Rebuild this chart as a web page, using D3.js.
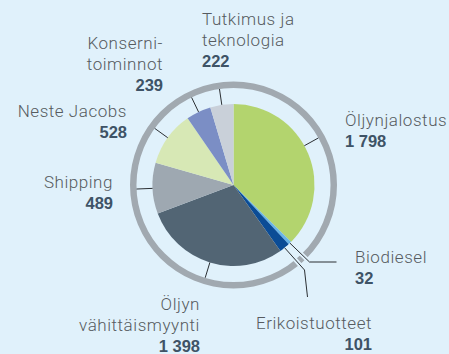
<!DOCTYPE html>
<html>
<head>
<meta charset="utf-8">
<script src="https://cdn.jsdelivr.net/npm/d3@7"></script>
<style>
  html, body { margin: 0; padding: 0; background: #e0f1fb; }
  svg { display: block; }
  .name { font-family: Roboto, "Liberation Sans", sans-serif; font-weight: 300; font-size: 17px; letter-spacing: 0.55px; fill: #565b60; }
  .value { font-family: "Liberation Sans", Arial, sans-serif; font-weight: 700; font-size: 16.5px; fill: #3e5366; }
</style>
</head>
<body>
<svg id="chart" width="449" height="354"></svg>
<script>
// Segment names (label lines), values and colours
const segments = ["Öljynjalostus", "Biodiesel", "Erikoistuotteet", "Öljyn vähittäismyynti",
                  "Shipping", "Neste Jacobs", "Konsernitoiminnot", "Tutkimus ja teknologia"];
const labelLines = [["Öljynjalostus"], ["Biodiesel"], ["Erikoistuotteet"], ["Öljyn", "vähittäismyynti"],
                    ["Shipping"], ["Neste Jacobs"], ["Konserni-", "toiminnot"], ["Tutkimus ja", "teknologia"]];
const values = [1798, 32, 101, 1398, 489, 528, 239, 222];
const valueLabels = ["1 798", "32", "101", "1 398", "489", "528", "239", "222"];
const colors = ["#b3d46e", "#6ab4e6", "#0b4c96", "#526574", "#9ea8b1", "#d7e8b5", "#7b8ec5", "#c9d0d9"];

// Label placement: text anchor point, alignment, and leader geometry
const labelLayout = [
  { x: 345, y: 126, anchor: "start", angle: 61 },
  { x: 355, y: 263, anchor: "start", elbow: [76, 77], end: [103, 77], halo: true },
  { x: 372, y: 329, anchor: "end", elbow: [71, 85], end: [74, 112], halo: true },
  { x: 200, y: 310, anchor: "end" },
  { x: 113, y: 188, anchor: "end" },
  { x: 127, y: 117, anchor: "end" },
  { x: 163, y: 49, anchor: "end" },
  { x: 202, y: 25, anchor: "start" }
];

const W = 449, H = 354;
const cx = 233.5, cy = 185;
const rPie = 81, rRingIn = 97, rRingOut = 103.5;
const lineGap = 21;

const svg = d3.select("#chart");
const g = svg.append("g").attr("transform", `translate(${cx},${cy})`);

const pie = d3.pie().sort(null).value(d => d.value).startAngle(0).endAngle(2 * Math.PI);
const data = segments.map((s, i) => ({ name: s, value: values[i], color: colors[i], i }));
const arcs = pie(data);
const arc = d3.arc().innerRadius(0).outerRadius(rPie);

g.selectAll("path.slice")
  .data(arcs)
  .join("path")
  .attr("class", "slice")
  .attr("d", arc)
  .attr("fill", d => d.data.color);

// Outer ring
g.append("path")
  .attr("d", d3.arc().innerRadius(rRingIn).outerRadius(rRingOut).startAngle(0).endAngle(2 * Math.PI)())
  .attr("fill", "#a1a9b0");

// Leader lines
const pt = (ang, r) => [r * Math.sin(ang), -r * Math.cos(ang)];
const leaders = arcs.map((a, i) => {
  const L = labelLayout[i];
  const ang = L.angle != null ? L.angle * Math.PI / 180 : (a.startAngle + a.endAngle) / 2;
  const p0 = pt(ang, rPie);
  let pts;
  if (L.elbow) pts = [p0, L.elbow, L.end];
  else pts = [p0, pt(ang, rRingIn)];
  return { pts, halo: !!L.halo };
});
const line = d3.line();
g.selectAll("path.halo")
  .data(leaders.filter(d => d.halo))
  .join("path")
  .attr("class", "halo")
  .attr("d", d => line(d.pts))
  .attr("fill", "none")
  .attr("stroke", "#e0f1fb")
  .attr("stroke-width", 4.5);
g.selectAll("path.leader")
  .data(leaders)
  .join("path")
  .attr("class", "leader")
  .attr("d", d => line(d.pts))
  .attr("fill", "none")
  .attr("stroke", "#2b2f33")
  .attr("stroke-width", 1);

// Labels
arcs.forEach((a, i) => {
  const L = labelLayout[i];
  const t = svg.append("g");
  labelLines[i].forEach((ln, k) => {
    t.append("text").attr("class", "name")
      .attr("x", L.x).attr("y", L.y + k * lineGap)
      .attr("text-anchor", L.anchor).text(ln);
  });
  t.append("text").attr("class", "value")
    .attr("x", L.x).attr("y", L.y + labelLines[i].length * lineGap)
    .attr("text-anchor", L.anchor).text(valueLabels[i]);
});
</script>
</body>
</html>
